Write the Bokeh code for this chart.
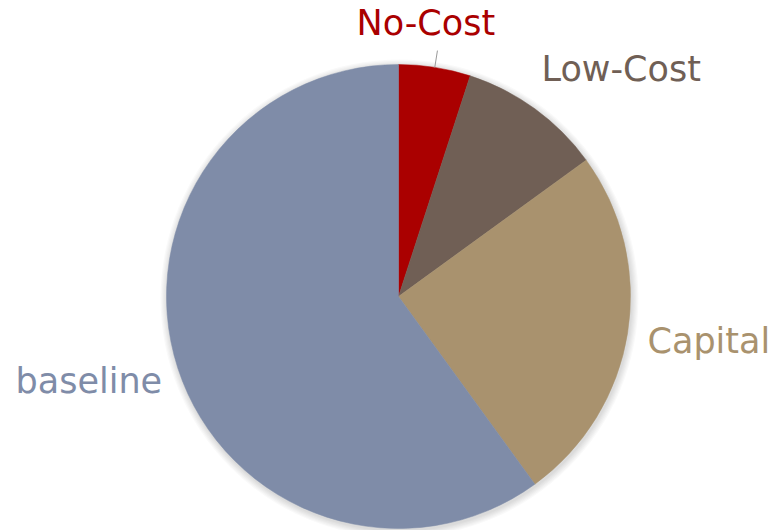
import math
from bokeh.plotting import figure
from bokeh.models import Range1d
from bokeh.core.properties import value
from bokeh.embed import file_html
from bokeh.resources import INLINE

categories = ["No-Cost", "Low-Cost", "Capital", "baseline"]
shares = [5, 10, 25, 60]
colors = ["#AA0000", "#705F55", "#A9926E", "#7F8CA8"]

W, H = 783, 530
cx, cy, R = 398, 530 - 296, 232

p = figure(width=W, height=H, output_backend="svg", toolbar_location=None,
           x_range=Range1d(0, W), y_range=Range1d(0, H), min_border=0)
p.axis.visible = False
p.grid.visible = False
p.outline_line_color = None
p.background_fill_color = "white"

# soft shadow
for k in range(6):
    p.circle(x=[cx + 1], y=[cy - 2], radius=R + 1 + k * 1.2, fill_color="black",
             fill_alpha=0.025, line_color=None)

total = sum(shares)
cum = 0
mids = []
for cat, s, c in zip(categories, shares, colors):
    a0 = math.pi / 2 - 2 * math.pi * cum / total
    a1 = math.pi / 2 - 2 * math.pi * (cum + s) / total
    p.wedge(x=[cx], y=[cy], radius=R, start_angle=a0, end_angle=a1, direction="clock",
            fill_color=c, line_color=c, line_width=0.5)
    mids.append((a0 + a1) / 2)
    cum += s

# leader line for No-Cost
m = mids[0]
p.line(x=[cx + R * math.cos(m), cx + (R + 17) * math.cos(m)],
       y=[cy + R * math.sin(m), cy + (R + 17) * math.sin(m)],
       line_color="#999999", line_width=1)

label_pos = [(356, 530 - 22), (541, 530 - 68), (647, 530 - 340), (15, 530 - 380)]
for cat, c, (lx, ly) in zip(categories, colors, label_pos):
    p.text(x=[lx], y=[ly], text=[cat], text_color=c, text_font=value("DejaVu Sans"),
           text_font_size="35px", text_align="left", text_baseline="alphabetic")

open("out.html", "w").write(file_html(p, INLINE))
